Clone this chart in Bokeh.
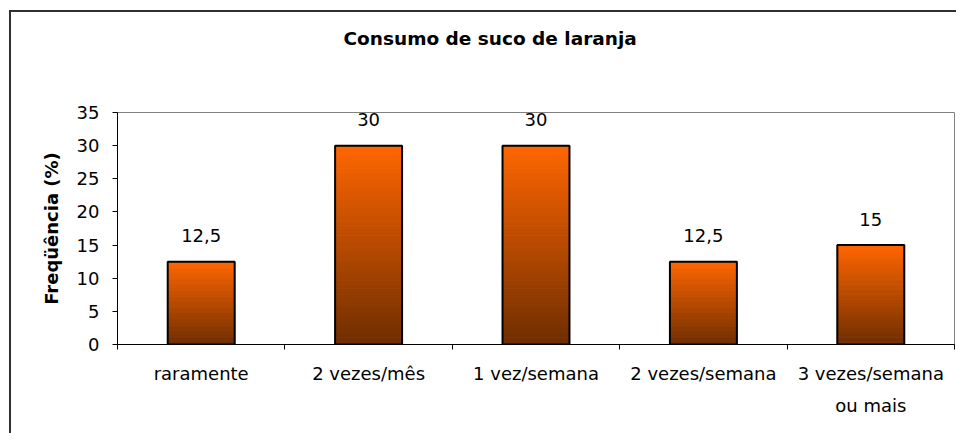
from bokeh.plotting import figure
from bokeh.models import Range1d, FixedTicker, Title
from bokeh.embed import file_html
from bokeh.resources import INLINE
from bokeh.core.properties import value

# ---- data ----
categories = ["raramente", "2 vezes/mês", "1 vez/semana", "2 vezes/semana", "3 vezes/semana\nou mais"]
frequencies = [12.5, 30, 30, 12.5, 15]
value_labels = ["12,5", "30", "30", "12,5", "15"]
y_ticks = [0, 5, 10, 15, 20, 25, 30, 35]
title_text = "Consumo de suco de laranja"
y_title = "Freqüência (%)"

# ---- style ----
FONT = "DejaVu Sans"
TOP_RGB = (255, 102, 0)
BOTTOM_RGB = (110, 46, 0)
N_STRIPS = 60
BAR_W = 0.4
BORDER = "#303030"

n = len(categories)
centers = [i + 0.5 for i in range(n)]
bounds = list(range(n + 1))

bg = ("linear-gradient(%s, %s) 9px 10px / 2px 100%% no-repeat, "
      "linear-gradient(%s, %s) 9px 10px / 100%% 2px no-repeat, #ffffff") % (BORDER, BORDER, BORDER, BORDER)

p = figure(width=956, height=433, title=None,
           x_range=Range1d(0, n), y_range=Range1d(0, y_ticks[-1]),
           output_backend="svg", toolbar_location=None,
           min_border_left=117, min_border_right=2,
           min_border_top=112, min_border_bottom=89,
           styles={"background": bg})

p.background_fill_color = "white"
p.border_fill_color = None
p.outline_line_color = "#808080"
p.outline_line_width = 1
p.xgrid.visible = False
p.ygrid.visible = False

# title (a blank spacer title sits between the chart title and the frame)
spacer = Title(text=" ", standoff=36, text_font=FONT, text_font_size="18.5px",
               text_font_style="bold")
p.add_layout(spacer, "above")
main_title = Title(text=title_text, align="left", offset=226, standoff=10,
                   text_font=FONT, text_font_size="18.5px", text_font_style="bold",
                   text_color="black")
p.add_layout(main_title, "above")

# gradient bars: stacked strips computed from each bar's value
sx, sb, st, sc = [], [], [], []
for c, v in zip(centers, frequencies):
    for k in range(N_STRIPS):
        f = (k + 0.5) / N_STRIPS
        rgb = tuple(round(BOTTOM_RGB[j] + (TOP_RGB[j] - BOTTOM_RGB[j]) * f) for j in range(3))
        col = "#%02x%02x%02x" % rgb
        sx.append(c)
        sb.append(v * k / N_STRIPS)
        st.append(v * (k + 1) / N_STRIPS)
        sc.append(col)
p.vbar(x=sx, bottom=sb, top=st, width=BAR_W, fill_color=sc, line_color=sc, line_width=1)
p.vbar(x=centers, top=frequencies, width=BAR_W, fill_color=None, line_color="black", line_width=2)

# value labels
p.text(x=centers, y=frequencies, text=value_labels, text_align="center",
       text_baseline="alphabetic", y_offset=-26,
       text_font=value(FONT), text_font_size="18px", text_color="black")

# x axis
xa = p.xaxis[0]
xa.ticker = FixedTicker(ticks=centers, minor_ticks=bounds)
xa.major_label_overrides = {c: lab for c, lab in zip(centers, categories)}
xa.major_tick_line_color = None
xa.major_tick_out = 0
xa.major_tick_in = 0
xa.minor_tick_line_color = "black"
xa.minor_tick_out = 5
xa.minor_tick_in = 0
xa.axis_line_color = "black"
xa.major_label_standoff = 13
xa.major_label_text_font = FONT
xa.major_label_text_font_size = "18px"
xa.major_label_text_color = "black"
xa.major_label_text_line_height = 1.55

# y axis
ya = p.yaxis[0]
ya.ticker = FixedTicker(ticks=y_ticks)
ya.minor_tick_line_color = None
ya.major_tick_out = 5
ya.major_tick_in = 0
ya.major_tick_line_color = "black"
ya.axis_line_color = "black"
ya.major_label_standoff = 13
ya.major_label_text_font = FONT
ya.major_label_text_font_size = "18px"
ya.major_label_text_color = "black"
ya.axis_label = y_title
ya.axis_label_text_font = FONT
ya.axis_label_text_font_size = "18px"
ya.axis_label_text_font_style = "bold"
ya.axis_label_text_color = "black"
ya.axis_label_standoff = 12

open("out.html", "w").write(file_html(p, INLINE))
